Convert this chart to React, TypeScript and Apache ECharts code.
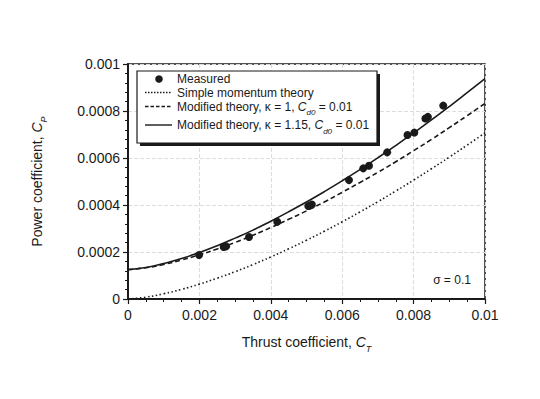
import React, { useEffect, useRef } from 'react';
import * as echarts from 'echarts';

const ctGrid = [0, 0.0005, 0.001, 0.0015, 0.002, 0.0025, 0.003, 0.0035, 0.004, 0.0045, 0.005, 0.0055, 0.006, 0.0065, 0.007, 0.0075, 0.008, 0.0085, 0.009, 0.0095, 0.01];
const cpSimple = [0, 0.0000079, 0.0000224, 0.0000411, 0.0000633, 0.0000884, 0.0001162, 0.0001464, 0.0001789, 0.0002135, 0.00025, 0.0002884, 0.0003286, 0.0003706, 0.0004141, 0.0004593, 0.000506, 0.0005541, 0.0006037, 0.0006548, 0.0007071];
const cpKappa1 = [0.000125, 0.000133, 0.000147, 0.000166, 0.000188, 0.000213, 0.000241, 0.000271, 0.000304, 0.000339, 0.000375, 0.000413, 0.000454, 0.000496, 0.000539, 0.000584, 0.000631, 0.000679, 0.000729, 0.00078, 0.000832];
const cpKappa115 = [0.000125, 0.000134, 0.000151, 0.000172, 0.000198, 0.000227, 0.000259, 0.000293, 0.000331, 0.000371, 0.000413, 0.000457, 0.000503, 0.000551, 0.000601, 0.000653, 0.000707, 0.000762, 0.000819, 0.000878, 0.000938];
const measuredCt = [0.00199, 0.00268, 0.00275, 0.00339, 0.00418, 0.00505, 0.00515, 0.00619, 0.00659, 0.00675, 0.00726, 0.00783, 0.00802, 0.00833, 0.0084, 0.00883];
const measuredCp = [0.000187, 0.000221, 0.000224, 0.000264, 0.000329, 0.000396, 0.000402, 0.000506, 0.000556, 0.000567, 0.000624, 0.000698, 0.000708, 0.000768, 0.000775, 0.000823];
const xTickLabels = ['0', '0.002', '0.004', '0.006', '0.008', '0.01'];
const yTickLabels = ['0', '0.0002', '0.0004', '0.0006', '0.0008', '0.001'];

const FONT = '"Liberation Sans", Arial, Helvetica, sans-serif';
const INK = '#1a1a1a';

export default function App() {
  const ref = useRef<HTMLDivElement>(null);
  useEffect(() => {
    if (!ref.current) return;
    const chart = echarts.init(ref.current, undefined, { renderer: 'svg' });
    const pair = (xs: number[], ys: number[]) => xs.map((x, i) => [x, ys[i]]);
    const sub = { fontFamily: FONT, fontSize: 8, fontStyle: 'italic' as const, verticalAlign: 'bottom' as const, padding: [0, 0, -4, 0], color: INK };
    const ital = { fontFamily: FONT, fontSize: 12, fontStyle: 'italic' as const, color: INK };
    const legX = 145;
    const legEnd = 172;
    const textX = 177;
    chart.setOption({
      animation: false,
      backgroundColor: '#ffffff',
      grid: { left: 128, right: 55, top: 64, bottom: 100, show: true, borderColor: INK, borderWidth: 1.5 },
      xAxis: {
        type: 'value', min: 0, max: 0.01, interval: 0.002,
        axisLine: { show: true, lineStyle: { color: INK, width: 2 } },
        axisTick: { show: true, length: 5, lineStyle: { color: INK, width: 1.2 } },
        minorTick: { show: true, splitNumber: 4, length: 3, lineStyle: { color: INK, width: 1 } },
        splitLine: { show: true, lineStyle: { color: '#dcdcdc', width: 1, type: [4, 2] } },
        axisLabel: {
          fontFamily: FONT, fontSize: 14, color: INK, margin: 9,
          formatter: (v: number) => xTickLabels[Math.round(v / 0.002)] ?? '',
        },
        name: 'Thrust coefficient, {i|C}{s|T}', nameLocation: 'middle', nameGap: 36,
        nameTextStyle: {
          fontFamily: FONT, fontSize: 14, color: INK,
          rich: { i: { ...ital, fontSize: 14 }, s: { ...sub, fontSize: 9 } },
        },
      },
      yAxis: {
        type: 'value', min: 0, max: 0.001, interval: 0.0002,
        axisLine: { show: true, lineStyle: { color: INK, width: 2 } },
        axisTick: { show: true, length: 5, lineStyle: { color: INK, width: 1.2 } },
        minorTick: { show: true, splitNumber: 5, length: 3, lineStyle: { color: INK, width: 1 } },
        splitLine: { show: true, lineStyle: { color: '#dcdcdc', width: 1, type: [4, 2] } },
        axisLabel: {
          fontFamily: FONT, fontSize: 14, color: INK, margin: 8,
          formatter: (v: number) => yTickLabels[Math.round(v / 0.0002)] ?? '',
        },
        name: 'Power coefficient, {i|C}{s|P}', nameLocation: 'middle', nameGap: 84, nameRotate: 90,
        nameTextStyle: {
          fontFamily: FONT, fontSize: 14, color: INK,
          rich: { i: { ...ital, fontSize: 14 }, s: { ...sub, fontSize: 9 } },
        },
      },
      series: [
        {
          name: 'Simple momentum theory', type: 'line', data: pair(ctGrid, cpSimple), smooth: true,
          showSymbol: false, lineStyle: { color: INK, width: 1.6, type: [1.5, 2.5] }, z: 2,
        },
        {
          name: 'Modified theory, κ = 1', type: 'line', data: pair(ctGrid, cpKappa1), smooth: true,
          showSymbol: false, lineStyle: { color: INK, width: 1.6, type: [5, 3] }, z: 2,
        },
        {
          name: 'Modified theory, κ = 1.15', type: 'line', data: pair(ctGrid, cpKappa115), smooth: true,
          showSymbol: false, lineStyle: { color: INK, width: 1.6, type: 'solid' }, z: 2,
        },
        {
          name: 'Measured', type: 'scatter', data: pair(measuredCt, measuredCp), symbol: 'circle',
          symbolSize: 8, itemStyle: { color: INK, opacity: 1 }, z: 3,
        },
      ],
      graphic: [
        { type: 'rect', shape: { x: 140, y: 74, width: 240, height: 72 }, style: { fill: INK }, z: 100 },
        { type: 'rect', shape: { x: 137, y: 71, width: 240, height: 72 }, style: { fill: '#fff', stroke: INK, lineWidth: 1.2 }, z: 101 },
        { type: 'circle', shape: { cx: 159, cy: 79, r: 3.8 }, style: { fill: INK }, z: 102 },
        { type: 'text', x: textX, y: 78.5, style: { text: 'Measured', font: `12px ${FONT}`, fill: INK, verticalAlign: 'middle' }, z: 102 },
        { type: 'line', shape: { x1: legX, y1: 92.5, x2: legEnd, y2: 92.5 }, style: { stroke: INK, lineWidth: 1.4, lineDash: [1.5, 1.5] }, z: 102 },
        { type: 'text', x: textX, y: 92.5, style: { text: 'Simple momentum theory', font: `12px ${FONT}`, fill: INK, verticalAlign: 'middle' }, z: 102 },
        { type: 'line', shape: { x1: legX, y1: 106.5, x2: legEnd, y2: 106.5 }, style: { stroke: INK, lineWidth: 1.4, lineDash: [3.5, 2] }, z: 102 },
        {
          type: 'text', x: textX, y: 106.5, z: 102,
          style: {
            text: 'Modified theory, κ = 1, {i|C}{s|d0} = 0.01', font: `12px ${FONT}`, fill: INK, verticalAlign: 'middle',
            rich: { i: ital, s: sub },
          },
        },
        { type: 'line', shape: { x1: legX, y1: 125, x2: legEnd, y2: 125 }, style: { stroke: INK, lineWidth: 1.4 }, z: 102 },
        {
          type: 'text', x: textX, y: 125, z: 102,
          style: {
            text: 'Modified theory, κ = 1.15, {i|C}{s|d0} = 0.01', font: `12px ${FONT}`, fill: INK, verticalAlign: 'middle',
            rich: { i: ital, s: sub },
          },
        },
        {
          type: 'text', x: 452, y: 280, z: 102,
          style: { text: 'σ = 0.1', font: `12px ${FONT}`, fill: INK, align: 'center', verticalAlign: 'middle' },
        },
      ],
    });
    return () => chart.dispose();
  }, []);
  return <div ref={ref} style={{ width: 540, height: 399, position: 'absolute', left: 0, top: 0 }} />;
}
